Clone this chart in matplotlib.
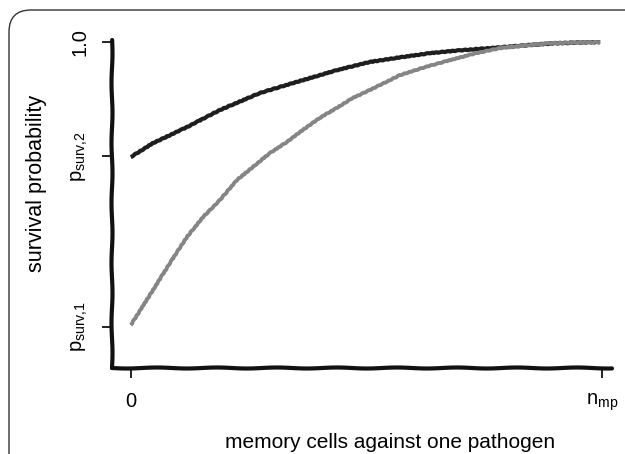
import numpy as np
import matplotlib
matplotlib.use('Agg')
from matplotlib import pyplot as plt
from matplotlib.patches import FancyBboxPatch

plt.rcParams['font.family'] = ['Liberation Sans', 'DejaVu Sans']
plt.rcParams['mathtext.fontset'] = 'custom'
plt.rcParams['mathtext.rm'] = 'Liberation Sans'
plt.rcParams['mathtext.it'] = 'Liberation Sans'

## values (x: fraction of n_mp)
p_surv1 = 0.20
p_surv2 = 0.68
x_dark = [0.0, 0.047, 0.119, 0.189, 0.274, 0.365, 0.437, 0.507, 0.571, 0.635, 0.700,
          0.762, 0.830, 0.890, 0.950, 0.996]
y_dark = [0.677, 0.716, 0.761, 0.809, 0.857, 0.893, 0.921, 0.944, 0.957, 0.969, 0.977,
          0.983, 0.990, 0.996, 0.999, 1.0]
x_gray = [0.0, 0.047, 0.083, 0.119, 0.153, 0.189, 0.225, 0.259, 0.295, 0.331, 0.365,
          0.401, 0.437, 0.471, 0.507, 0.571, 0.625, 0.677, 0.730, 0.783, 0.840, 0.890,
          0.945, 0.996]
y_gray = [0.205, 0.303, 0.379, 0.452, 0.508, 0.556, 0.612, 0.649, 0.688, 0.719, 0.753,
          0.787, 0.815, 0.843, 0.865, 0.907, 0.930, 0.949, 0.968, 0.983, 0.991, 0.997,
          0.999, 1.0]

xticks = [0, 1]
xticklabels = ['0', r'$\mathregular{n_{mp}}$']
yticks = [p_surv1, p_surv2, 1.0]
yticklabels = [r'$\mathregular{p_{surv{,}1}}$', r'$\mathregular{p_{surv{,}2}}$', '1.0']

fig = plt.figure(figsize=(6.25, 4.54), dpi=100)
ax = fig.add_axes([0.179, 0.189, 0.80, 0.723])

# rounded panel frame, only top and left edges visible
frame = FancyBboxPatch((0.09, -0.5), 6.4, 4.94, boxstyle='round,pad=0,rounding_size=0.22',
                       transform=fig.dpi_scale_trans, fill=False, lw=1.0, ec='#333333')
fig.add_artist(frame)

l1, = ax.plot(x_dark, y_dark, color='#1e1e1e', lw=3.0, solid_capstyle='butt')
l2, = ax.plot(x_gray, y_gray, color='#858585', lw=2.8, solid_capstyle='butt')
for ln in (l1, l2):
    ln.set_sketch_params(0.35, 6, 2)

ax.set_xlim(-0.040, 1.021)
ax.set_ylim(0.084, 1.006)

for s in ('top', 'right'):
    ax.spines[s].set_visible(False)
for s in ('left', 'bottom'):
    ax.spines[s].set_linewidth(3.0)
    ax.spines[s].set_color('#111111')
    ax.spines[s].set_sketch_params(0.5, 60, 1)
    ax.spines[s].set_capstyle('round')

ax.set_xticks(xticks)
ax.set_xticklabels(xticklabels, fontsize=14.5)
ax.set_yticks(yticks)
ax.set_yticklabels(yticklabels, fontsize=14.5, rotation=90, va='center')
ax.tick_params(axis='both', direction='out', length=7, width=1.3, color='#111111')
ax.tick_params(axis='x', pad=10)
ax.tick_params(axis='y', pad=9)

ax.set_xlabel('memory cells against one pathogen', fontsize=15)
ax.set_ylabel('survival probability', fontsize=15.5)
ax.xaxis.set_label_coords(0.556, -0.198)
ax.yaxis.set_label_coords(-0.13, 0.564)

fig.savefig('out.png', dpi=100)
